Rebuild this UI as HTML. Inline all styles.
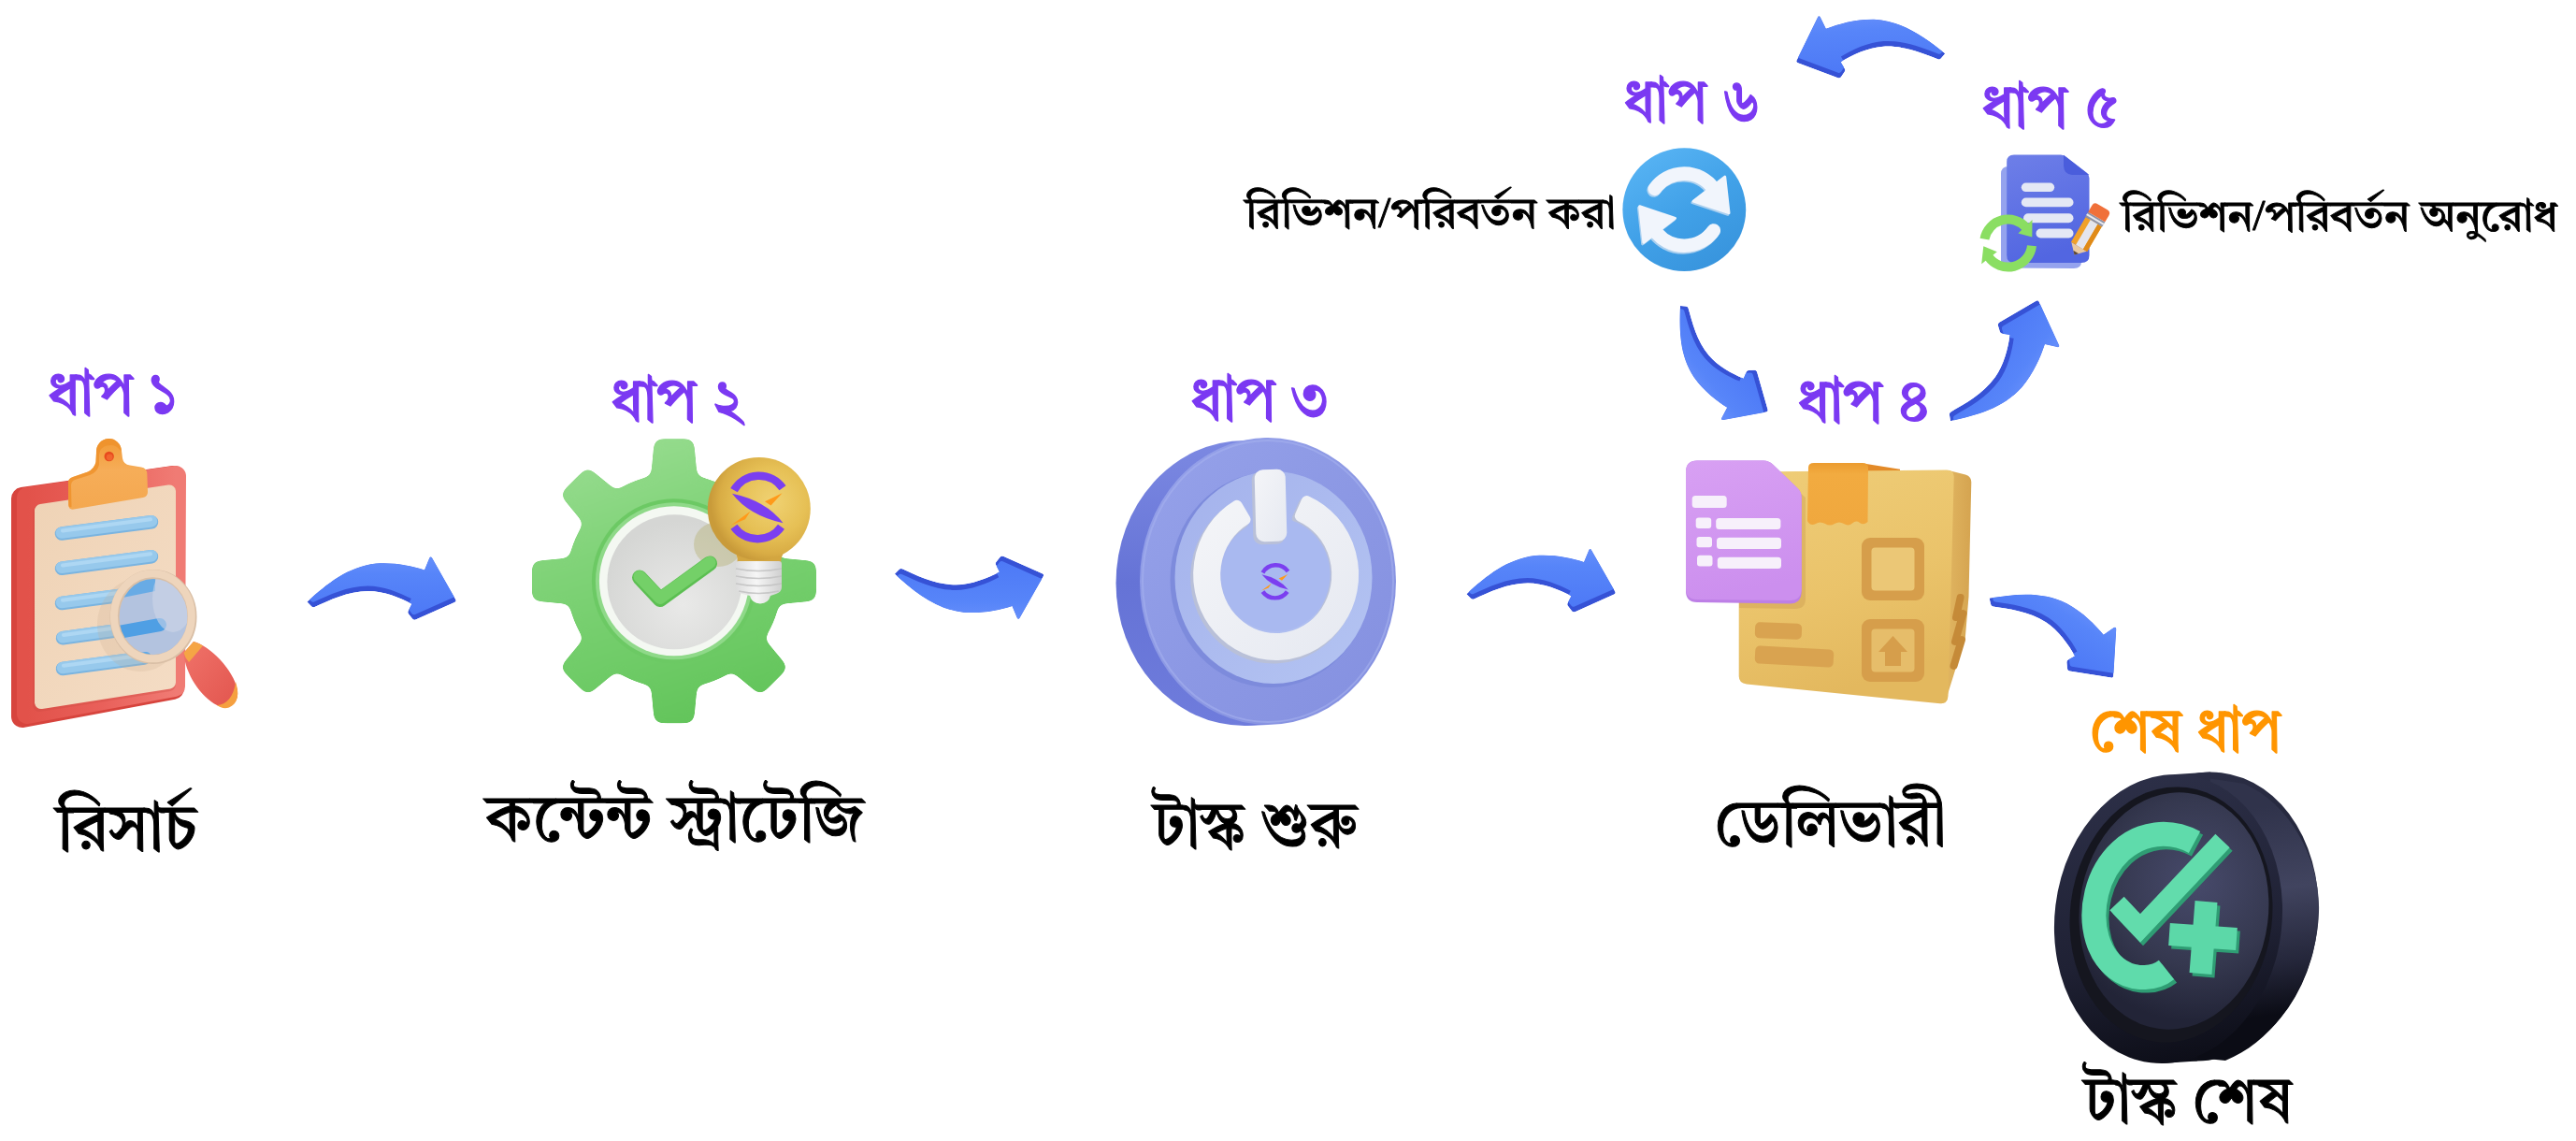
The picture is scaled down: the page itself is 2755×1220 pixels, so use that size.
<!DOCTYPE html>
<html lang="bn">
<head>
<meta charset="utf-8">
<title>ওয়ার্কফ্লো ধাপসমূহ</title>
<style>
  html, body { margin: 0; padding: 0; background: #ffffff; }
  body { width: 2755px; height: 1220px; overflow: hidden; }
  svg { display: block; will-change: transform; }
  .lat { font-family: "Liberation Serif", serif; }
  text { font-family: "Tiro Bangla", "Noto Serif Bengali", "Lohit Bengali", "Liberation Serif", serif; white-space: pre; }
</style>
</head>
<body>
<svg width="2755" height="1220" viewBox="0 0 2755 1220">

<defs>
  <path id="arrowShape" d="M18.4 73.6 C40 54 62 36 92 32.5 C112 31 130 35 144 39.4 L149.2 26.8 Q150.6 24.2 152.2 26.8 L177.3 71 Q178.4 73 176.2 74 L134.5 92.6 Q132.4 93.4 131 91.6 L126.8 86.2 Q125.8 84.8 126.6 83.2 L130.4 75.7 C118 69 100 62 84 62 C62 62 42 72 26.5 79 Q24.4 79.8 23 78.2 Z"/>
  <clipPath id="arrowClip"><use href="#arrowShape"/></clipPath>
  <linearGradient id="arrowFace" x1="0" y1="0" x2="0" y2="1">
    <stop offset="0" stop-color="#6a92fb"/><stop offset="0.35" stop-color="#5785f9"/><stop offset="1" stop-color="#4d79f6"/>
  </linearGradient>
  <g id="arrow">
    <g clip-path="url(#arrowClip)">
      <use href="#arrowShape" fill="#3652d6"/>
      <use href="#arrowShape" fill="url(#arrowFace)" transform="translate(-0.6,-5.6)"/>
    </g>
  </g>
  <g id="logo">
    <path d="M-26 -19 A31 31 0 0 1 26 -21.5" fill="none" stroke="#7b3ff0" stroke-width="8.6" />
    <path d="M-26 20 A31 31 0 0 0 24.5 20" fill="none" stroke="#7b3ff0" stroke-width="8.6" />
    <path d="M-28 -15.5 Q8 -8 26.5 16 Q-10 8 -28 -15.5 Z" fill="#7b3ff0"/>
    <path d="M7 -7 L25.5 -16 L13.5 -2.8 Z" fill="#ff9a1a"/>
    <path d="M-28.5 18 L-8.6 3.6 L-14 12 Z" fill="#ff9a1a"/>
  </g>
</defs>

<rect width="2755" height="1220" fill="#ffffff"/>

<g id="arrows">
  <use href="#arrow" transform="translate(310,570)"/>
  <use href="#arrow" transform="translate(938.5,568.5) translate(0,118.8) scale(1,-1)"/>
  <use href="#arrow" transform="translate(1550,561.6)"/>
  <use href="#arrow" transform="translate(2127.6,639.6) rotate(33) scale(0.985) translate(-18.4,-73.6)"/>
  <use href="#arrow" transform="translate(1797,327) rotate(50) scale(0.92) translate(-18.4,-45.2) translate(0,118.8) scale(1,-1)"/>
  <use href="#arrow" transform="translate(2086,450.2) rotate(-54.4) scale(1.0) translate(-18.4,-45.2) translate(0,118.8) scale(1,-1)"/>
  <use href="#arrow" transform="translate(2080.3,57.3) rotate(-3.5) scale(-1,1) translate(-18.4,-73.6)"/>
</g>


<g id="clipboard">
  <defs>
    <linearGradient id="cbBoard" x1="0" y1="0" x2="1" y2="0">
      <stop offset="0" stop-color="#e2524a"/><stop offset="0.5" stop-color="#e9605a"/><stop offset="1" stop-color="#f07b74"/>
    </linearGradient>
    <linearGradient id="cbPaper" x1="0" y1="0" x2="1" y2="1">
      <stop offset="0" stop-color="#efd3b6"/><stop offset="1" stop-color="#f4dcc4"/>
    </linearGradient>
    <linearGradient id="cbClip" x1="0" y1="0" x2="0" y2="1">
      <stop offset="0" stop-color="#f19a35"/><stop offset="0.45" stop-color="#f6ad58"/><stop offset="1" stop-color="#f4a850"/>
    </linearGradient>
    <linearGradient id="cbLine" x1="0" y1="0" x2="0" y2="1">
      <stop offset="0" stop-color="#a9d5f3"/><stop offset="1" stop-color="#7db8e4"/>
    </linearGradient>
    <clipPath id="lensClip"><ellipse cx="164" cy="659.5" rx="38" ry="42"/></clipPath>
    <linearGradient id="cbHandle" x1="0" y1="0" x2="1" y2="1">
      <stop offset="0" stop-color="#f0736a"/><stop offset="1" stop-color="#e2554e"/>
    </linearGradient>
  </defs>
  <!-- board side (dark) -->
  <path d="M24 533 L186 510 L185 736 L24 766 Z" fill="#d7443d" stroke="#d7443d" stroke-width="24" stroke-linejoin="round"/>
  <!-- board face -->
  <path d="M29 532 L188 509 L187 734 L29 763 Z" fill="url(#cbBoard)" stroke="url(#cbBoard)" stroke-width="22" stroke-linejoin="round"/>
  <!-- paper shadow -->
  <path d="M42 547 L181 526 L181 732 L42 754 Z" fill="#cf4a42" stroke="#cf4a42" stroke-width="14" stroke-linejoin="round" opacity="0.35"/>
  <!-- paper -->
  <path d="M44 546 L181 525.5 L181 729.5 L44 751 Z" fill="url(#cbPaper)" stroke="url(#cbPaper)" stroke-width="14" stroke-linejoin="round"/>
  <!-- lines -->
  <g stroke-linecap="round" fill="none">
    <g stroke="#7ab4e0" stroke-width="14.5">
      <path d="M66 570.5 L162 558.2"/><path d="M66 607.8 L162 595.2"/><path d="M66 645 L162 632.5"/><path d="M67 682.2 L162 669.3"/><path d="M67 715 L154 703.5"/>
    </g>
    <g stroke="#97c9ec" stroke-width="12.5">
      <path d="M66 569.6 L162 557.2"/><path d="M66 606.8 L162 594.2"/><path d="M66 644 L162 631.5"/><path d="M67 681.2 L162 668.3"/><path d="M67 714 L154 702.5"/>
    </g>
    <g stroke="#b4dbf5" stroke-width="4" opacity="0.8">
      <path d="M67 567.4 L161 555.2"/><path d="M67 604.6 L161 592.2"/><path d="M67 641.8 L161 629.5"/><path d="M68 679 L161 666.3"/><path d="M68 711.8 L153 700.5"/>
    </g>
  </g>
  <!-- clip -->
  <path d="M73 517 Q72.5 511.5 78 510 L94 504.5 Q101 501 102.5 494 L103 484 A13.5 14 0 0 1 130 482 L131 490 Q132 496.5 139 497.5 L151 499.5 Q157 500.5 157.3 506 L158 526 Q158 531 153 532 L79 544.5 Q73.5 545.5 73.3 540 Z" fill="url(#cbClip)"/>
  <path d="M73 517 Q72.5 511.5 78 510 L94 504.5 Q101 501 102.5 494 L103 484 A13.5 14 0 0 1 130 482 L128 481 A12 11 0 0 0 106 486 L106 497 Q104 505 96 508 L80 513 Q76 514.5 76 519 L76.5 542 Q73.4 543 73.3 540 Z" fill="#ee922b" opacity="0.85"/>
  <circle cx="116.7" cy="488" r="5.2" fill="#e84a1e"/>
  <circle cx="117.2" cy="489" r="3.4" fill="#f2652e"/>
  <!-- magnifier shadow -->
  <ellipse cx="150" cy="668" rx="46" ry="50" fill="#c9a98c" opacity="0.2"/>
  <!-- lens -->
  <ellipse cx="164" cy="659.5" rx="40" ry="44" fill="#b3c3df"/>
  <g clip-path="url(#lensClip)">
    <path d="M126 640 L166 632 L166 612 L126 620 Z" fill="#5fa9e6" opacity="0.9"/>
    <path d="M126 676 L171 668" stroke="#4f9fe4" stroke-width="14" stroke-linecap="round"/>
    <path d="M124 709 L156 703" stroke="#5fa9e6" stroke-width="12" stroke-linecap="round"/>
    <ellipse cx="185" cy="640" rx="22" ry="36" fill="#cdd6e8" opacity="0.6"/>
  </g>
  <!-- handle -->
  <path d="M196.5 698 L207 686 C224 690 250 716 254 738 C256 752 244 761 232 754 C215 745 198 721 196.5 698 Z" fill="url(#cbHandle)"/>
  <path d="M196.5 698 L207 686 Q213 687.5 217 690.5 L202 708 Q197.5 703 196.5 698 Z" fill="#f5a545"/>
  <path d="M252 729 C256 742 255 752 245 756.5 C240 758 236 756.8 232 754 C242 754 250 745 252 729 Z" fill="#f5a040"/>
  <!-- ring -->
  <ellipse cx="164" cy="659.5" rx="41.5" ry="45.5" fill="none" stroke="#d9bfa6" stroke-width="10"/>
  <ellipse cx="163.4" cy="658.8" rx="41.5" ry="45.5" fill="none" stroke="#eed5bc" stroke-width="8"/>
</g>


<g id="gear">
  <defs>
    <linearGradient id="gearG" gradientUnits="userSpaceOnUse" x1="660.9" y1="471.29999999999995" x2="760.9" y2="771.3">
      <stop offset="0" stop-color="#97dc8f"/><stop offset="0.35" stop-color="#80d378"/><stop offset="0.7" stop-color="#70cc68"/><stop offset="1" stop-color="#62c45a"/>
    </linearGradient>
    <radialGradient id="gearDisk" gradientUnits="userSpaceOnUse" cx="730.9" cy="646.3" r="90">
      <stop offset="0" stop-color="#e9e9e8"/><stop offset="1" stop-color="#d5d6d4"/>
    </radialGradient>
    <radialGradient id="bulbG" gradientUnits="userSpaceOnUse" cx="826" cy="536" r="66">
      <stop offset="0" stop-color="#f0d273"/><stop offset="0.55" stop-color="#e6c055"/><stop offset="0.85" stop-color="#d9ad45"/><stop offset="1" stop-color="#c99b3a"/>
    </radialGradient>
    <linearGradient id="bulbBase" x1="0" y1="0" x2="1" y2="0">
      <stop offset="0" stop-color="#dcdcdc"/><stop offset="0.45" stop-color="#f6f6f6"/><stop offset="1" stop-color="#cfcfcf"/>
    </linearGradient>
  </defs>
  <!-- teeth + body -->
  <filter id="gearGoo" x="-10%" y="-10%" width="120%" height="120%" color-interpolation-filters="sRGB">
    <feGaussianBlur in="SourceGraphic" stdDeviation="4.5" result="b"/>
    <feColorMatrix in="b" type="matrix" values="1 0 0 0 0  0 1 0 0 0  0 0 1 0 0  0 0 0 16 -7.5"/>
  </filter>
  <g filter="url(#gearGoo)">
    <g fill="url(#gearG)" stroke="url(#gearG)" stroke-width="11" stroke-linejoin="round">
      <path d="M700.9 517.3 L704.9 474.8 L736.9 474.8 L740.9 517.3 Z M780.3 533.6 L813.2 506.4 L835.8 529.0 L808.6 561.9 Z M824.9 601.3 L867.4 605.3 L867.4 637.3 L824.9 641.3 Z M808.6 680.7 L835.8 713.6 L813.2 736.2 L780.3 709.0 Z M740.9 725.3 L736.9 767.8 L704.9 767.8 L700.9 725.3 Z M661.5 709.0 L628.6 736.2 L606.0 713.6 L633.2 680.7 Z M616.9 641.3 L574.4 637.3 L574.4 605.3 L616.9 601.3 Z M633.2 561.9 L606.0 529.0 L628.6 506.4 L661.5 533.6 Z"/>
    </g>
    <circle cx="720.9" cy="621.3" r="115" fill="url(#gearG)"/>
  </g>
  <!-- inner bevel -->
  <circle cx="720.9" cy="621.3" r="88" fill="#6cc964"/>
  <circle cx="720.9" cy="621.3" r="84" fill="#8fd989"/>
  <circle cx="720.9" cy="621.3" r="80" fill="#f4f8f2"/>
  <circle cx="721.4" cy="622.3" r="72" fill="url(#gearDisk)"/>
  <!-- bulb shadow on disk -->
  <ellipse cx="768" cy="582" rx="26" ry="24" fill="#b9b37a" opacity="0.45"/>
  <!-- check -->
  <path d="M684 617.5 L706 641 L759 602.5" fill="none" stroke="#5cbf52" stroke-width="16" stroke-linecap="round" stroke-linejoin="round"/>
  <path d="M684 616.5 L706 639.5 L759 601.5" fill="none" stroke="#74d068" stroke-width="13" stroke-linecap="round" stroke-linejoin="round"/>
  <!-- bulb -->
  <path d="M786 590 Q790 596 788 604 L835.5 604 Q834 596 840 588 Z" fill="#d3a640"/>
  <circle cx="811.8" cy="543.9" r="55" fill="url(#bulbG)"/>
  <path d="M787 603 Q787 600 790 600 L833 600 Q836 600 836 603 L836 628 Q836 633 830 635 L824 637 Q822 645 813 645.5 Q804 645 802 637 L794 635 Q787 633 787 628 Z" fill="url(#bulbBase)"/>
  <g stroke="#c4c4c4" stroke-width="1.6" fill="none" opacity="0.9">
    <path d="M787 608 Q811 613 836 608"/><path d="M787 616 Q811 621 836 616"/><path d="M787 624 Q811 629 836 624"/><path d="M790 632 Q811 637 833 632"/>
  </g>
  <use href="#logo" transform="translate(811,543.2)"/>
</g>


<g id="power">
  <defs>
    <linearGradient id="pwSide" x1="0" y1="0" x2="0" y2="1">
      <stop offset="0" stop-color="#7c89e2"/><stop offset="0.5" stop-color="#6573d6"/><stop offset="1" stop-color="#6f7cdc"/>
    </linearGradient>
    <linearGradient id="pwFace" x1="0" y1="0" x2="1" y2="1">
      <stop offset="0" stop-color="#96a2ea"/><stop offset="0.5" stop-color="#8c98e4"/><stop offset="1" stop-color="#8490e0"/>
    </linearGradient>
    <linearGradient id="pwInner" x1="0" y1="0" x2="1" y2="1">
      <stop offset="0" stop-color="#a4b2ec"/><stop offset="1" stop-color="#b4c4f2"/>
    </linearGradient>
    <linearGradient id="pwWhite" x1="0" y1="0" x2="1" y2="1">
      <stop offset="0" stop-color="#f4f5f8"/><stop offset="1" stop-color="#e6e9f1"/>
    </linearGradient>
  </defs>
  <!-- side -->
  <ellipse cx="1331" cy="623.5" rx="137.5" ry="152.5" fill="url(#pwSide)"/>
  <path d="M1331 471 L1356 468 L1356 775 L1331 776 Z" fill="url(#pwSide)"/>
  <!-- face -->
  <ellipse cx="1356" cy="621.5" rx="137" ry="153.5" fill="url(#pwFace)"/>
  <ellipse cx="1356" cy="621.5" rx="134" ry="150.5" fill="none" stroke="#a5b0ee" stroke-width="2" opacity="0.6"/>
  <!-- raised inner disk -->
  <ellipse cx="1358.5" cy="620" rx="107" ry="115" fill="#7d8bdc"/>
  <ellipse cx="1362" cy="617.5" rx="105.5" ry="113.5" fill="url(#pwInner)"/>
  <!-- ring shadow -->
  <path d="M1322.8 540.8 A82.5 85.5 0 1 0 1397.6 536.1 L1390.8 551.7 A65.5 68.5 0 1 1 1331.5 555.5 Z" fill="#b9c0d8" stroke="#b9c0d8" stroke-width="13" stroke-linejoin="round" transform="translate(-2.5,3)"/>
  <path d="M1322.8 540.8 A82.5 85.5 0 1 0 1397.6 536.1 L1390.8 551.7 A65.5 68.5 0 1 1 1331.5 555.5 Z" fill="url(#pwWhite)" stroke="url(#pwWhite)" stroke-width="12" stroke-linejoin="round"/>
  <!-- inner disc tint -->
  <ellipse cx="1364.7" cy="614.5" rx="58" ry="60.5" fill="#a9b9f0"/>
  <!-- bar -->
  <rect x="1339.5" y="504" width="34" height="78" rx="9" fill="#b9c0d8" transform="rotate(-1.5 1356 543)"/>
  <rect x="1342.5" y="502" width="33" height="77" rx="9" fill="url(#pwWhite)" transform="rotate(-1.5 1359 540)"/>
  <use href="#logo" transform="translate(1364,622.2) scale(0.52)"/>
</g>


<g id="box">
  <defs>
    <linearGradient id="bxFront" x1="0" y1="0" x2="0.3" y2="1">
      <stop offset="0" stop-color="#efcd78"/><stop offset="0.6" stop-color="#eac36a"/><stop offset="1" stop-color="#e3b85e"/>
    </linearGradient>
    <linearGradient id="bxSide" x1="0" y1="0" x2="1" y2="0">
      <stop offset="0" stop-color="#e1b662"/><stop offset="1" stop-color="#d5a450"/>
    </linearGradient>
    <linearGradient id="bxDoc" x1="0" y1="0" x2="0.2" y2="1">
      <stop offset="0" stop-color="#d8a0f3"/><stop offset="1" stop-color="#cc8fee"/>
    </linearGradient>
    <linearGradient id="bxTape" x1="0" y1="0" x2="0" y2="1">
      <stop offset="0" stop-color="#ec9c30"/><stop offset="0.18" stop-color="#f2ab40"/><stop offset="1" stop-color="#f0a83e"/>
    </linearGradient>
  </defs>
  <!-- right side -->
  <path d="M2084 503 L2102 507.5 Q2108.5 509.5 2108.3 516 L2105.5 638 L2101.8 682 L2080 752 Z" fill="url(#bxSide)"/>
  <!-- top strip -->
  <path d="M1996 496 L2032 501.8 L2032 504 L1996 504 Z" fill="#e38a28"/>
  <!-- front -->
  <path d="M1859.7 512 Q1859.7 504.5 1868 504.5 L2082 502.5 Q2090 502.5 2089.7 510 L2083.5 744 Q2083 753 2075 752.3 L1868 731.5 Q1859.7 730.5 1859.7 723 Z" fill="url(#bxFront)"/>
  <!-- side marks -->
  <g stroke="#c58a38" stroke-width="8" stroke-linecap="round" fill="none">
    <path d="M2096.6 639 L2092 660"/><path d="M2099.5 656 L2091 686"/><path d="M2098 684 L2089.5 712"/>
  </g>
  <!-- tape -->
  <path d="M1934 500 Q1934 495 1940 495 L1992 495 Q1998 495 1998 500 L1997.5 558 Q1993 562 1989 559 Q1985 556 1981 559.5 Q1977 563 1972 560 Q1967 557 1962 560 Q1957 563 1952 560 Q1946 557 1942 560 Q1936 563 1933 557 Z" fill="url(#bxTape)"/>
  <!-- labels -->
  <rect x="1991" y="575" width="67" height="67" rx="9" fill="#d69e4b"/>
  <rect x="2001.5" y="585.5" width="46" height="46" rx="4" fill="#ebc776"/>
  <rect x="1991" y="662" width="67" height="67" rx="9" fill="#d69e4b"/>
  <rect x="2001.5" y="672.5" width="46" height="46" rx="4" fill="#e6bd6a"/>
  <path d="M2024.5 680 L2040 697 L2033 697 L2033 712 L2016 712 L2016 697 L2009 697 Z" fill="#d69e4b"/>
  <rect x="1877" y="666" width="50" height="17" rx="5" fill="#d9a350" transform="rotate(2 1902 674)"/>
  <rect x="1877" y="692.5" width="84" height="19" rx="5" fill="#d9a350" transform="rotate(3 1919 702)"/>
  <!-- purple doc shadow -->
  <path d="M1860 506 L1894 500 L1931 532 L1931 640 Q1931 651 1920 651 L1860 650 Z" fill="#b98a45" opacity="0.28"/>
  <!-- purple doc -->
  <path d="M1803 504.5 Q1803 492.5 1815 492.5 L1886 492.5 Q1892 492.5 1896.5 497 L1922.5 522 Q1926.7 526 1926.7 532 L1926.7 632 Q1926.7 645.5 1914 645.5 L1815 644 Q1803 644 1803 632 Z" fill="#bd7fe6"/>
  <path d="M1803 504.5 Q1803 492.5 1815 492.5 L1886 492.5 Q1892 492.5 1896.5 497 L1922.5 522 Q1926.7 526 1926.7 532 L1926.7 629 Q1926.7 642 1914 642 L1815 641 Q1803 641 1803 629 Z" fill="url(#bxDoc)"/>
  <g fill="#f7f0fb">
    <rect x="1809.7" y="530" width="37" height="13" rx="3.5"/>
    <rect x="1813.7" y="553.6" width="16.5" height="11.3" rx="3"/><rect x="1835.2" y="554" width="69.2" height="12" rx="3.5"/>
    <rect x="1814.5" y="574" width="16.5" height="11.3" rx="3"/><rect x="1836" y="574.7" width="69" height="12.3" rx="3.5"/>
    <rect x="1815" y="593.8" width="16.5" height="11.6" rx="3"/><rect x="1836.8" y="595.7" width="68.2" height="12.3" rx="3.5"/>
  </g>
</g>


<g id="coin">
  <defs>
    <linearGradient id="cnEdge" gradientUnits="userSpaceOnUse" x1="2300" y1="830" x2="2420" y2="1140">
      <stop offset="0" stop-color="#2b2e45"/><stop offset="0.45" stop-color="#23253a"/><stop offset="1" stop-color="#07080f"/>
    </linearGradient>
    <linearGradient id="cnEdgeHi" gradientUnits="userSpaceOnUse" x1="2440" y1="860" x2="2470" y2="1080">
      <stop offset="0" stop-color="#30334b"/><stop offset="0.4" stop-color="#41445f"/><stop offset="0.75" stop-color="#25273b"/><stop offset="1" stop-color="#0b0c15"/>
    </linearGradient>
    <linearGradient id="cnRim" gradientUnits="userSpaceOnUse" x1="2260" y1="840" x2="2360" y2="1130">
      <stop offset="0" stop-color="#2c2f47"/><stop offset="0.6" stop-color="#1f2134"/><stop offset="1" stop-color="#0d0e18"/>
    </linearGradient>
    <radialGradient id="cnPanel" gradientUnits="userSpaceOnUse" cx="2345" cy="940" r="150">
      <stop offset="0" stop-color="#474a6b"/><stop offset="0.6" stop-color="#35384f"/><stop offset="1" stop-color="#222437"/>
    </radialGradient>
    <linearGradient id="cnGreen" x1="0" y1="0" x2="1" y2="1">
      <stop offset="0" stop-color="#74e6ba"/><stop offset="1" stop-color="#55d4a2"/>
    </linearGradient>
  </defs>
  <!-- back/edge -->
  <ellipse cx="2357" cy="980" rx="122" ry="155" fill="url(#cnEdge)" transform="rotate(7 2357 980)"/>
  <path d="M2400 838 C2450 860 2482 920 2480 975 C2478 1040 2440 1110 2380 1134 L2340 1130 L2360 832 Z" fill="url(#cnEdgeHi)"/>
  <path d="M2326.2 827.9 L2364.2 825.4 L2349.8 1134.6 L2311.8 1137.1 Z" fill="url(#cnEdge)"/>
  <!-- front rim -->
  <ellipse cx="2319" cy="982.5" rx="121.5" ry="155" fill="url(#cnRim)" transform="rotate(7 2319 982.5)"/>
  <ellipse cx="2322" cy="978" rx="108" ry="137" fill="#15161f" transform="rotate(7 2322 978)"/>
  <ellipse cx="2325" cy="974" rx="101" ry="127" fill="url(#cnPanel)" transform="rotate(7 2325 974)"/>
  <!-- green symbol -->
  <g fill="none" stroke-linejoin="miter">
    <g stroke="#2f9d74" transform="translate(3,3.5)">
      <path d="M2347 900.5 C2320 886 2290 890 2268 910 C2242 934 2234 974 2243 1004 C2251 1031 2272 1046 2294 1045 C2304 1044.5 2312 1041 2317 1037" stroke-width="26"/>
      <path d="M2264 966 L2289 992.5 L2377 899" stroke-width="21"/>
      <path d="M2320 999 L2392 1004 M2359.5 964 L2353.5 1041" stroke-width="24"/>
    </g>
    <g stroke="url(#cnGreen)">
      <path d="M2347 900.5 C2320 886 2290 890 2268 910 C2242 934 2234 974 2243 1004 C2251 1031 2272 1046 2294 1045 C2304 1044.5 2312 1041 2317 1037" stroke-width="26" stroke="#5fdbab"/>
      <path d="M2264 966 L2289 992.5 L2377 899" stroke-width="21" stroke="#62dcac"/>
      <path d="M2320 999 L2392 1004 M2359.5 964 L2353.5 1041" stroke-width="24" stroke="#5cd8a8"/>
    </g>
  </g>
</g>


<g id="refresh">
  <defs>
    <linearGradient id="rfG" x1="0.2" y1="0" x2="0.8" y2="1">
      <stop offset="0" stop-color="#58b4f4"/><stop offset="0.5" stop-color="#41a1e8"/><stop offset="1" stop-color="#3793dc"/>
    </linearGradient>
  </defs>
  <circle cx="1801.3" cy="224.2" r="65.9" fill="url(#rfG)"/>
  <g fill="#c5dcf2" stroke="#c5dcf2" opacity="0.8" transform="translate(-1.2,1.6)"><path d="M1769.9 201.8 A38.6 38.6 0 0 1 1832.5 201.5" fill="none" stroke-width="14.7" stroke-linecap="round"/><path d="M1844.7 189.2 L1849.0 227.7 L1811.1 215.1 Z" stroke-width="3" stroke-linejoin="round"/><g transform="rotate(180 1801.3 224.2)"><path d="M1769.9 201.8 A38.6 38.6 0 0 1 1832.5 201.5" fill="none" stroke-width="14.7" stroke-linecap="round"/><path d="M1844.7 189.2 L1849.0 227.7 L1811.1 215.1 Z" stroke-width="3" stroke-linejoin="round"/></g></g>
  <g fill="#f1f5fc" stroke="#f1f5fc"><path d="M1769.9 201.8 A38.6 38.6 0 0 1 1832.5 201.5" fill="none" stroke-width="14.7" stroke-linecap="round"/><path d="M1844.7 189.2 L1849.0 227.7 L1811.1 215.1 Z" stroke-width="3" stroke-linejoin="round"/><g transform="rotate(180 1801.3 224.2)"><path d="M1769.9 201.8 A38.6 38.6 0 0 1 1832.5 201.5" fill="none" stroke-width="14.7" stroke-linecap="round"/><path d="M1844.7 189.2 L1849.0 227.7 L1811.1 215.1 Z" stroke-width="3" stroke-linejoin="round"/></g></g>
</g>


<g id="docicon">
  <defs>
    <linearGradient id="dcG" x1="0" y1="0" x2="0.3" y2="1">
      <stop offset="0" stop-color="#6e7fe8"/><stop offset="1" stop-color="#5266e1"/>
    </linearGradient>
  </defs>
  <path d="M2140 186 Q2140 178 2148 178 L2220 178 L2226 280 Q2226 287 2218 287 L2148 286.5 Q2140 286.5 2140 279 Z" fill="#95a3ee"/>
  <path d="M2146.2 173 Q2146.2 165.5 2154 165.5 L2204 165.5 Q2207.5 165.5 2210 168 L2232 185 Q2234.5 187 2234.5 190.5 L2234.5 273 Q2234.5 281 2226 281 L2154 281 Q2146.2 281 2146.2 273 Z" fill="url(#dcG)"/>
  <path d="M2207 165.8 L2234.3 187 L2216 187 Q2207 186 2207 177 Z" fill="#4a5ddc"/>
  <g fill="#e4e8f5">
    <rect x="2161.8" y="195.5" width="35.4" height="9.6" rx="4.8"/>
    <rect x="2161.8" y="211.5" width="55.7" height="9.8" rx="4.9"/>
    <rect x="2164" y="228.2" width="53.5" height="10" rx="5"/>
    <rect x="2177.5" y="244.5" width="40" height="9.9" rx="4.9"/>
  </g>
  <g fill="none" stroke="#8ade62" stroke-width="10">
    <path d="M2122.5 255.6 A25.5 25.5 0 0 1 2167.1 243.6"/>
    <path d="M2173.0 262.7 A25.5 25.5 0 0 1 2126.5 274.3"/>
  </g>
  <path d="M2173.5 235.0 L2158.4 249.6 L2173.3 253.6 Z" fill="#8ade62"/><path d="M2119.2 282.2 L2135.8 269.2 L2121.3 263.2 Z" fill="#8ade62"/>
  <!-- pencil: local coords along axis, origin at tip -->
  <g transform="translate(2218.5,272.5) rotate(-59.6)">
    <path d="M0 0 L10 -9.5 L10 9.5 Z" fill="#e9c9a2"/>
    <path d="M0 0 L3.5 -3.3 L3.5 3.3 Z" fill="#5a4636"/>
    <rect x="10" y="-10" width="31" height="20" fill="#f0a12a"/>
    <rect x="10" y="-4" width="31" height="9" fill="#e4e5ee"/>
    <rect x="10" y="5" width="31" height="5" fill="#e08a18"/>
    <rect x="41" y="-10.5" width="6" height="21" fill="#8f93a6"/>
    <rect x="43" y="-10.5" width="2" height="21" fill="#e8e9f0"/>
    <path d="M47 -10.5 L55 -10.5 Q59.5 -10.5 59.5 -6 L59.5 6 Q59.5 10.5 55 10.5 L47 10.5 Z" fill="#f0703a"/>
  </g>
</g>

<g id="labels">
<text id="s1" x="51.0" y="442.1" font-size="66" fill="#7b39f2" stroke="#7b39f2" stroke-width="1.4" stroke-linejoin="round" textLength="138.2" lengthAdjust="spacingAndGlyphs">ধাপ ১</text>
<text id="s2" x="653.2" y="448.6" font-size="66" fill="#7b39f2" stroke="#7b39f2" stroke-width="1.4" stroke-linejoin="round" textLength="140.8" lengthAdjust="spacingAndGlyphs">ধাপ ২</text>
<text id="s3" x="1273.2" y="447.9" font-size="66" fill="#7b39f2" stroke="#7b39f2" stroke-width="1.4" stroke-linejoin="round" textLength="149.1" lengthAdjust="spacingAndGlyphs">ধাপ ৩</text>
<text id="s4" x="1922.4" y="450.0" font-size="66" fill="#7b39f2" stroke="#7b39f2" stroke-width="1.4" stroke-linejoin="round" textLength="140.6" lengthAdjust="spacingAndGlyphs">ধাপ ৪</text>
<text id="s5" x="2119.2" y="134.6" font-size="66" fill="#7b39f2" stroke="#7b39f2" stroke-width="1.4" stroke-linejoin="round" textLength="146.6" lengthAdjust="spacingAndGlyphs">ধাপ ৫</text>
<text id="s6" x="1736.4" y="129.3" font-size="66" fill="#7b39f2" stroke="#7b39f2" stroke-width="1.4" stroke-linejoin="round" textLength="146.3" lengthAdjust="spacingAndGlyphs">ধাপ ৬</text>
<text id="se" x="2235.4" y="801.9" font-size="66" fill="#ff9500" stroke="#ff9500" stroke-width="1.4" stroke-linejoin="round" textLength="204.0" lengthAdjust="spacingAndGlyphs">শেষ ধাপ</text>
<text id="l1" x="60.6" y="908.4" font-size="70" fill="#000" stroke="#000" stroke-width="1.0" stroke-linejoin="round" textLength="150.5" lengthAdjust="spacingAndGlyphs">রিসার্চ</text>
<text id="l2" x="520.0" y="897.9" font-size="70" fill="#000" stroke="#000" stroke-width="1.0" stroke-linejoin="round" textLength="405.0" lengthAdjust="spacingAndGlyphs">কন্টেন্ট স্ট্রাটেজি</text>
<text id="l3" x="1234.0" y="905.4" font-size="70" fill="#000" stroke="#000" stroke-width="1.0" stroke-linejoin="round" textLength="218.5" lengthAdjust="spacingAndGlyphs">টাস্ক শুরু</text>
<text id="l4" x="1834.2" y="902.8" font-size="70" fill="#000" stroke="#000" stroke-width="1.0" stroke-linejoin="round" textLength="248.1" lengthAdjust="spacingAndGlyphs">ডেলিভারী</text>
<text id="l5" x="2229.4" y="1199.3" font-size="70" fill="#000" stroke="#000" stroke-width="1.0" stroke-linejoin="round" textLength="222.2" lengthAdjust="spacingAndGlyphs">টাস্ক শেষ</text>
<text id="r6" x="1332.0" y="243.0" font-size="47" fill="#000" stroke="#000" stroke-width="0.9" stroke-linejoin="round" textLength="396.4" lengthAdjust="spacingAndGlyphs">রিভিশন<tspan class="lat">/</tspan>পরিবর্তন করা</text>
<text id="r5" x="2269.0" y="245.8" font-size="47" fill="#000" stroke="#000" stroke-width="0.9" stroke-linejoin="round" textLength="466.2" lengthAdjust="spacingAndGlyphs">রিভিশন<tspan class="lat">/</tspan>পরিবর্তন অনুরোধ</text>
</g>
</svg>
</body>
</html>
